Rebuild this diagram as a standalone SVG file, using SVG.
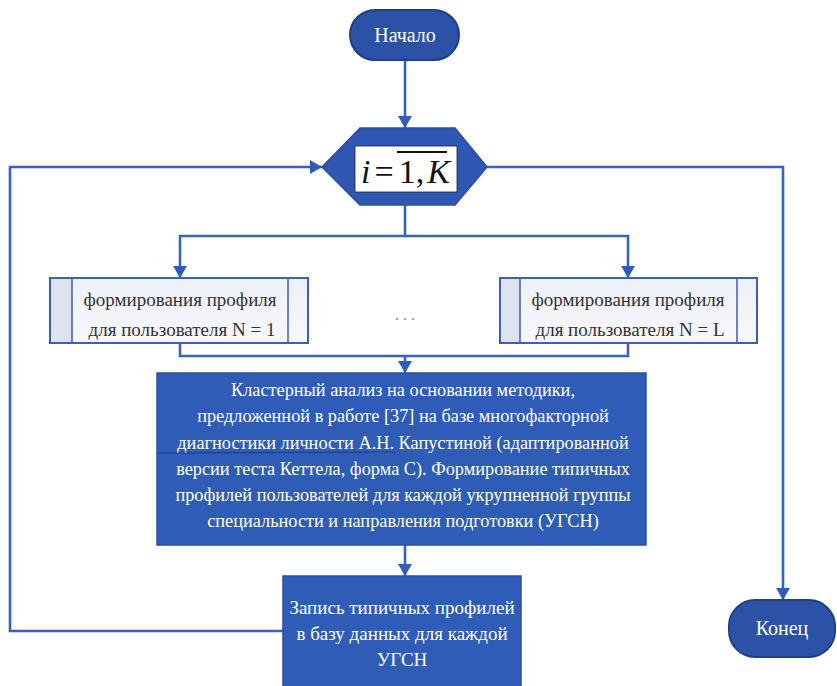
<svg xmlns="http://www.w3.org/2000/svg" width="837" height="686" viewBox="0 0 837 686">
  <defs>
    <marker id="arrow" viewBox="0 0 12 14" refX="12" refY="7" markerWidth="12" markerHeight="14" markerUnits="userSpaceOnUse" orient="auto">
      <path d="M0,0 L12,7 L0,14 Z" fill="#2f5bbd"/>
    </marker>
    <linearGradient id="subFill" x1="0" y1="0" x2="0" y2="1">
      <stop offset="0" stop-color="#eef0f8"/>
      <stop offset="1" stop-color="#f7f8fc"/>
    </linearGradient>
  </defs>
  <style>
    .line { fill: none; stroke: #3563c2; stroke-width: 2.6; }
    .term { fill: #2b52a6; stroke: #1f3f86; stroke-width: 2; }
    .proc { fill: #2f5cb6; stroke: #2a4f9f; stroke-width: 1.5; }
    .sub { fill: url(#subFill); stroke: #3a5fb8; stroke-width: 2; }
    .strip { fill: #dfe3f0; }
    .wt { fill: #ffffff; text-anchor: middle; }
    .dt { fill: #333333; text-anchor: middle; }
  </style>
  <rect width="837" height="686" fill="#ffffff"/>

  <!-- connectors -->
  <g id="connectors">
    <line class="line" x1="405" y1="60" x2="405" y2="128" marker-end="url(#arrow)"/>
    <polyline class="line" points="405,205 405,236 180,236 180,278" marker-end="url(#arrow)"/>
    <polyline class="line" points="405,236 628,236 628,278" marker-end="url(#arrow)"/>
    <polyline class="line" points="180,343 180,356 628,356 628,343"/>
    <line class="line" x1="405" y1="356" x2="405" y2="373" marker-end="url(#arrow)"/>
    <line class="line" x1="405" y1="545" x2="405" y2="576" marker-end="url(#arrow)"/>
    <polyline class="line" points="283,631 10,631 10,167 322,167" marker-end="url(#arrow)"/>
    <polyline class="line" points="487,167 783,167 783,600" marker-end="url(#arrow)"/>
  </g>

  <g font-family="Liberation Serif, serif">
    <g id="start">
      <rect class="term" x="350" y="10" width="109" height="50" rx="25" ry="25"/>
      <text class="wt" x="405" y="42" font-size="20">Начало</text>
    </g>

    <g id="loop">
      <polygon points="322,167 360,128 455,128 487,167 455,205 360,205" fill="#2d57b3" stroke="#2a4f9f" stroke-width="1.5"/>
      <rect x="355" y="146" width="102" height="46" fill="#ffffff" stroke="#222" stroke-width="0.8"/>
      <text x="361" y="183" font-size="34" fill="#111"><tspan font-style="italic">i</tspan><tspan dx="4">=</tspan><tspan dx="5">1,</tspan><tspan dx="3" font-style="italic">K</tspan></text>
      <line x1="397" y1="152" x2="447" y2="152" stroke="#111" stroke-width="2"/>
    </g>

    <g id="profile-1">
      <rect class="sub" x="50" y="278" width="258" height="65"/>
      <rect class="strip" x="51" y="279" width="21" height="63"/>
      <line x1="72" y1="278" x2="72" y2="343" stroke="#3a5fb8" stroke-width="1.5"/>
      <line x1="288" y1="278" x2="288" y2="343" stroke="#3a5fb8" stroke-width="1.5"/>
      <text class="dt" x="180" y="306" font-size="19">формирования профиля</text>
      <text class="dt" x="182" y="336" font-size="19">для пользователя N = 1</text>
    </g>

    <g id="ellipsis">
      <text x="405" y="320" font-size="16" fill="#888" text-anchor="middle">. . .</text>
    </g>

    <g id="profile-L">
      <rect class="sub" x="500" y="278" width="257" height="65"/>
      <rect class="strip" x="501" y="279" width="19" height="63"/>
      <line x1="520" y1="278" x2="520" y2="343" stroke="#3a5fb8" stroke-width="1.5"/>
      <line x1="737" y1="278" x2="737" y2="343" stroke="#3a5fb8" stroke-width="1.5"/>
      <text class="dt" x="628" y="306" font-size="19">формирования профиля</text>
      <text class="dt" x="630" y="336" font-size="19">для пользователя N = L</text>
    </g>

    <g id="cluster">
      <rect class="proc" x="157" y="373" width="489" height="172"/>
      <line x1="157" y1="453" x2="395" y2="452" stroke="#1d3f8f" stroke-width="1.2"/>
      <text class="wt" x="403" y="396" font-size="18.3">Кластерный анализ на основании методики,</text>
      <text class="wt" x="403" y="422" font-size="18.3">предложенной в работе [37] на базе многофакторной</text>
      <text class="wt" x="403" y="449" font-size="18.3">диагностики личности А.Н. Капустиной (адаптированной</text>
      <text class="wt" x="403" y="475" font-size="18.3">версии теста Кеттела, форма С). Формирование типичных</text>
      <text class="wt" x="403" y="501" font-size="18.3">профилей пользователей для каждой укрупненной группы</text>
      <text class="wt" x="403" y="527" font-size="18.3">специальности и направления подготовки (УГСН)</text>
    </g>

    <g id="store">
      <rect class="proc" x="283" y="576" width="238" height="114"/>
      <text class="wt" x="402" y="614" font-size="19">Запись типичных профилей</text>
      <text class="wt" x="402" y="640" font-size="19">в базу данных для каждой</text>
      <text class="wt" x="402" y="666" font-size="19">УГСН</text>
    </g>

    <g id="end">
      <rect class="term" x="729" y="600" width="106" height="57" rx="26" ry="26"/>
      <text class="wt" x="782" y="635" font-size="20">Конец</text>
    </g>
  </g>
</svg>
